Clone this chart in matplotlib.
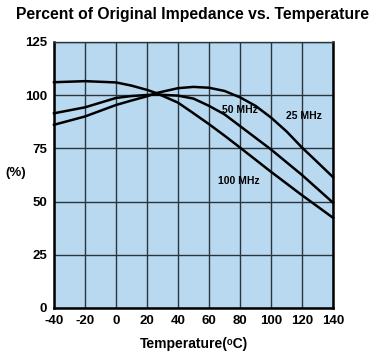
import numpy as np
import matplotlib
matplotlib.use("Agg")
import matplotlib.pyplot as plt

plt.rcParams["font.family"] = ["Liberation Sans", "DejaVu Sans"]
plt.rcParams["font.weight"] = "bold"
plt.rcParams["axes.unicode_minus"] = False

temp_c = [-40, -20, 0, 10, 20, 26, 40, 50, 60, 70, 80, 90, 100, 110, 120, 130, 140]
mhz25 = [86.1, 90.0, 95.4, 97.5, 99.5, 101.0, 103.3, 103.9, 103.5, 102.0, 99.0, 95.0, 89.5, 83.0, 75.4, 68.5, 61.5]
mhz50 = [91.5, 94.3, 98.7, 99.6, 100.1, 100.3, 99.8, 98.4, 95.0, 91.0, 85.5, 80.0, 74.5, 68.5, 62.5, 56.0, 49.5]
mhz100 = [106.1, 106.6, 106.0, 104.5, 102.5, 101.0, 96.5, 91.5, 86.4, 81.0, 75.4, 69.7, 64.0, 58.5, 53.0, 47.7, 42.4]

labels = ["25 MHz", "50 MHz", "100 MHz"]
label_pos = [(121.5, 90), (80, 93), (79.5, 59.5)]

fig = plt.figure(figsize=(3.86, 3.53), dpi=100)
ax = fig.add_axes([54 / 386, 1 - 308 / 353, 279 / 386, 266 / 353])
ax.set_facecolor("#b9d9f0")

for ys in (mhz25, mhz50, mhz100):
    ax.plot(temp_c, ys, color="black", lw=1.8, zorder=3, clip_on=False)

for lab, (x, y) in zip(labels, label_pos):
    ax.text(x, y, lab, fontsize=7.5, ha="center", va="center", zorder=4)

ax.set_xlim(-40, 140)
ax.set_ylim(0, 125)
ax.set_xticks(np.arange(-40, 141, 20))
ax.set_yticks(np.arange(0, 126, 25))
ax.grid(True, color="#2a3540", lw=1.0)
ax.tick_params(length=0, labelsize=9.5, pad=5)
for lbl in ax.get_xticklabels() + ax.get_yticklabels():
    lbl.set_fontweight("bold")
ax.spines["left"].set_linewidth(1.8)
ax.spines["bottom"].set_linewidth(1.8)
ax.spines["right"].set_linewidth(1.8)
ax.spines["top"].set_linewidth(1.0)
ax.spines["top"].set_color("#2a3540")

ax.set_xlabel("Temperature(\u1d52C)", fontsize=10, fontweight="bold", labelpad=7)
fig.text(16 / 386, 1 - 173 / 353, "(%)", fontsize=9.5, ha="center", va="center")
fig.text(193 / 386, 1 - 14 / 353, "Percent of Original Impedance vs. Temperature",
         fontsize=11.3, ha="center", va="center", fontweight="bold")

fig.savefig("out.png", dpi=100)
